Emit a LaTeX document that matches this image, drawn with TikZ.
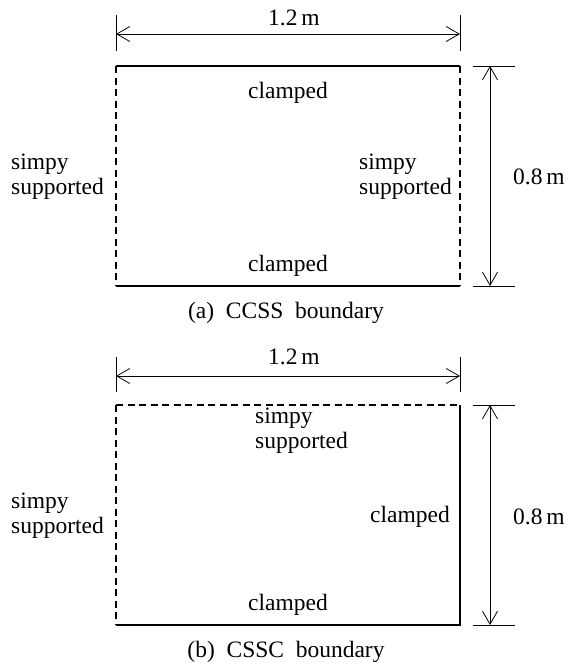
\documentclass[tikz,border=0pt]{standalone}
\usepackage{fontspec}
\setmainfont{Liberation Serif}
\usetikzlibrary{arrows.meta,positioning}

\tikzset{
  edgeclamp/.style={line width=1.8pt},
  edgess/.style={line width=1.8pt, dash pattern=on 7pt off 4.5pt},
  dimline/.style={line width=0.8pt},
  dimarrow/.style={line width=0.8pt, {Straight Barb[length=13pt,width=15pt]}-{Straight Barb[length=13pt,width=15pt]}},
  lbl/.style={inner sep=0pt, font=\fontsize{23.5}{25}\selectfont, align=left},
}

\begin{document}
\begin{tikzpicture}[x=1pt, y=-1pt]
    \def\W{344}     % plate width (1.2 m)
    \def\H{220}     % plate height (0.8 m)
    \def\xl{116}    % left edge of plate
    \useasboundingbox (0,0) rectangle (573,664);

    % (a) CCSS boundary
    \begin{scope}[shift={(0,0)}]
    \coordinate (a-nw) at (\xl,66);
    \coordinate (a-ne) at (\xl+\W,66);
    \coordinate (a-se) at (\xl+\W,66+\H);
    \coordinate (a-sw) at (\xl,66+\H);
    \draw[edgeclamp] (a-nw) -- (a-ne);
    \draw[edgeclamp] (a-sw) -- (a-se);
    \draw[edgess] (a-nw) -- (a-sw);
    \draw[edgess] (a-ne) -- (a-se);

    \node[lbl] (a-top) at (288,93) {clamped};
    \node[lbl] (a-bot) at (288,266) {clamped};
    \node[lbl, anchor=east] (a-left) at (104,177) {simpy\\supported};
    \node[lbl, anchor=east] (a-right) at (452,177) {simpy\\supported};

    % width dimension
    \coordinate (a-wl) at (\xl,34);
    \coordinate (a-wr) at (\xl+\W,34);
    \draw[dimline] (\xl,15) -- (\xl,51);
    \draw[dimline] (\xl+\W,15) -- (\xl+\W,51);
    \draw[dimarrow] (a-wl) -- (a-wr);
    \node[lbl] (a-wlbl) at (294,18) {1.2\,m};

    % height dimension
    \coordinate (a-ht) at (490,66);
    \coordinate (a-hb) at (490,66+\H);
    \draw[dimline] (473,66) -- (515,66);
    \draw[dimline] (473,66+\H) -- (515,66+\H);
    \draw[dimarrow] (a-ht) -- (a-hb);
    \node[lbl] (a-hlbl) at (539,177) {0.8\,m};

    \node[lbl] (a-cap) at (286,313) {(a)\enspace CCSS\enspace boundary};
    \end{scope}

    % (b) CSSC boundary
    \begin{scope}[shift={(0,339)}]
    \coordinate (b-nw) at (\xl,66);
    \coordinate (b-ne) at (\xl+\W,66);
    \coordinate (b-se) at (\xl+\W,66+\H);
    \coordinate (b-sw) at (\xl,66+\H);
    \draw[edgess] (b-nw) -- (b-ne);
    \draw[edgess] (b-nw) -- (b-sw);
    \draw[edgeclamp] (b-sw) -- (b-se) -- (b-ne);

    \node[lbl, anchor=west] (b-top) at (255,92) {simpy\\supported};
    \node[lbl] (b-bot) at (288,266) {clamped};
    \node[lbl, anchor=east] (b-left) at (104,177) {simpy\\supported};
    \node[lbl, anchor=east] (b-right) at (450,178) {clamped};

    % width dimension
    \coordinate (b-wl) at (\xl,37);
    \coordinate (b-wr) at (\xl+\W,37);
    \draw[dimline] (\xl,18) -- (\xl,53);
    \draw[dimline] (\xl+\W,18) -- (\xl+\W,53);
    \draw[dimarrow] (b-wl) -- (b-wr);
    \node[lbl] (b-wlbl) at (294,18) {1.2\,m};

    % height dimension
    \coordinate (b-ht) at (490,66);
    \coordinate (b-hb) at (490,66+\H);
    \draw[dimline] (473,66) -- (515,66);
    \draw[dimline] (473,66+\H) -- (515,66+\H);
    \draw[dimarrow] (b-ht) -- (b-hb);
    \node[lbl] (b-hlbl) at (539,178) {0.8\,m};

    \node[lbl] (b-cap) at (286,313) {(b)\enspace CSSC\enspace boundary};
    \end{scope}
\end{tikzpicture}
\end{document}
